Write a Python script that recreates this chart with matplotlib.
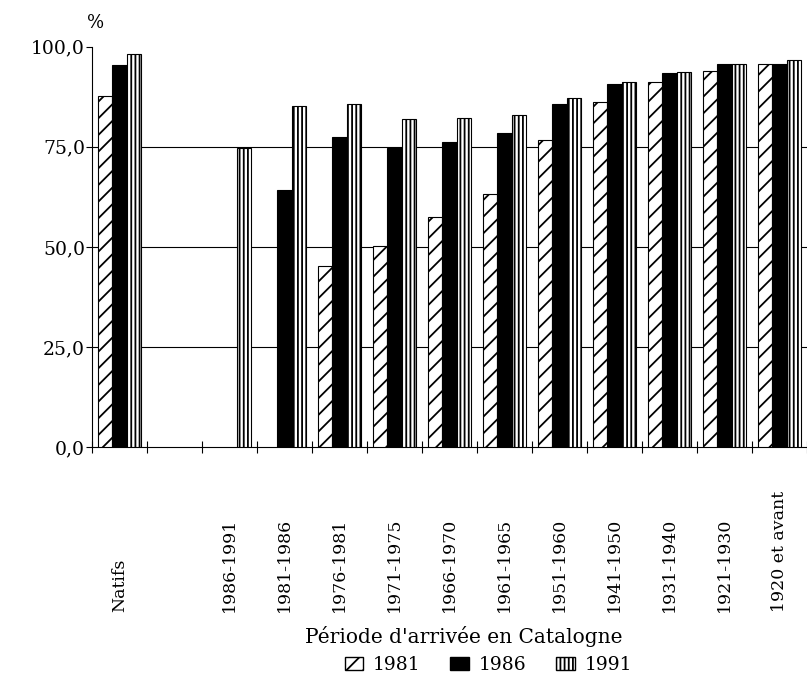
import numpy as np
import matplotlib
matplotlib.use("Agg")
import matplotlib.pyplot as plt
from matplotlib.patches import Patch

categories = ["Natifs", "1986-1991", "1981-1986", "1976-1981", "1971-1975",
              "1966-1970", "1961-1965", "1951-1960", "1941-1950", "1931-1940",
              "1921-1930", "1920 et avant"]
nan = np.nan
v1981 = [87.6, nan, nan, 45.3, 50.2, 57.5, 63.2, 76.7, 86.3, 91.3, 94.0, 95.7]
v1986 = [95.4, nan, 64.3, 77.5, 74.8, 76.2, 78.5, 85.6, 90.8, 93.5, 95.8, 95.8]
v1991 = [98.3, 74.8, 85.3, 85.7, 82.0, 82.3, 83.0, 87.2, 91.3, 93.7, 95.8, 96.8]
series_labels = ["1981", "1986", "1991"]
yticks = [0, 25, 50, 75, 100]
ytick_labels = ["0,0", "25,0", "50,0", "75,0", "100,0"]

plt.rcParams['font.family'] = ['DejaVu Serif']
plt.rcParams['hatch.linewidth'] = 1.3
plt.rcParams['hatch.color'] = 'black'

fig = plt.figure(figsize=(8.07, 6.87), dpi=100)
ax = fig.add_axes([0.114, 0.349, 0.886, 0.583])

# Natifs in first slot, one empty slot, then periods
pos = np.array([0] + list(range(2, 2 + len(categories) - 1)), dtype=float)
w = 0.255
styles = [dict(color='white', hatch='//', edgecolor='black'),
          dict(color='black', edgecolor='black'),
          dict(color='white', hatch='||||', edgecolor='black')]
for i, (vals, st) in enumerate(zip([v1981, v1986, v1991], styles)):
    ax.bar(pos + (i - 1) * w, vals, width=w, linewidth=0.8, zorder=3, **st)

ax.set_xlim(-0.5, 12.5)
ax.set_ylim(0, 100)
ax.set_yticks(yticks)
ax.set_yticklabels(ytick_labels, fontsize=13.5)
for y in [25, 50, 75]:
    ax.axhline(y, color='black', linewidth=0.8, zorder=1)
ax.tick_params(axis='y', direction='out', length=4, width=0.8, pad=1)

ax.set_xticks(np.arange(-0.5, 12.6, 1.0))
ax.set_xticklabels([])
ax.tick_params(axis='x', direction='inout', length=8, width=0.8)
for p, lab in zip(pos, categories):
    ax.text(p, -0.4125, lab, transform=ax.get_xaxis_transform(), rotation=90,
            ha='center', va='bottom', fontsize=12.5)

for s in ['top', 'right']:
    ax.spines[s].set_visible(False)
ax.spines['left'].set_linewidth(0.8)
ax.spines['bottom'].set_linewidth(0.8)

fig.text(0.118, 0.966, "%", fontsize=13, ha='center', va='center')
fig.text(0.575, 0.073, "Période d'arrivée en Catalogne", fontsize=14.5,
         ha='center', va='center')

handles = [Patch(facecolor='white', hatch='//', edgecolor='black', label=series_labels[0]),
           Patch(facecolor='black', edgecolor='black', label=series_labels[1]),
           Patch(facecolor='white', hatch='||||', edgecolor='black', label=series_labels[2])]
fig.legend(handles=handles, loc='center', bbox_to_anchor=(0.605, 0.032), ncol=3,
           frameon=False, fontsize=13.5, handlelength=1.0, handleheight=0.7,
           columnspacing=1.6, handletextpad=0.5)

fig.savefig("out.png", dpi=100)
